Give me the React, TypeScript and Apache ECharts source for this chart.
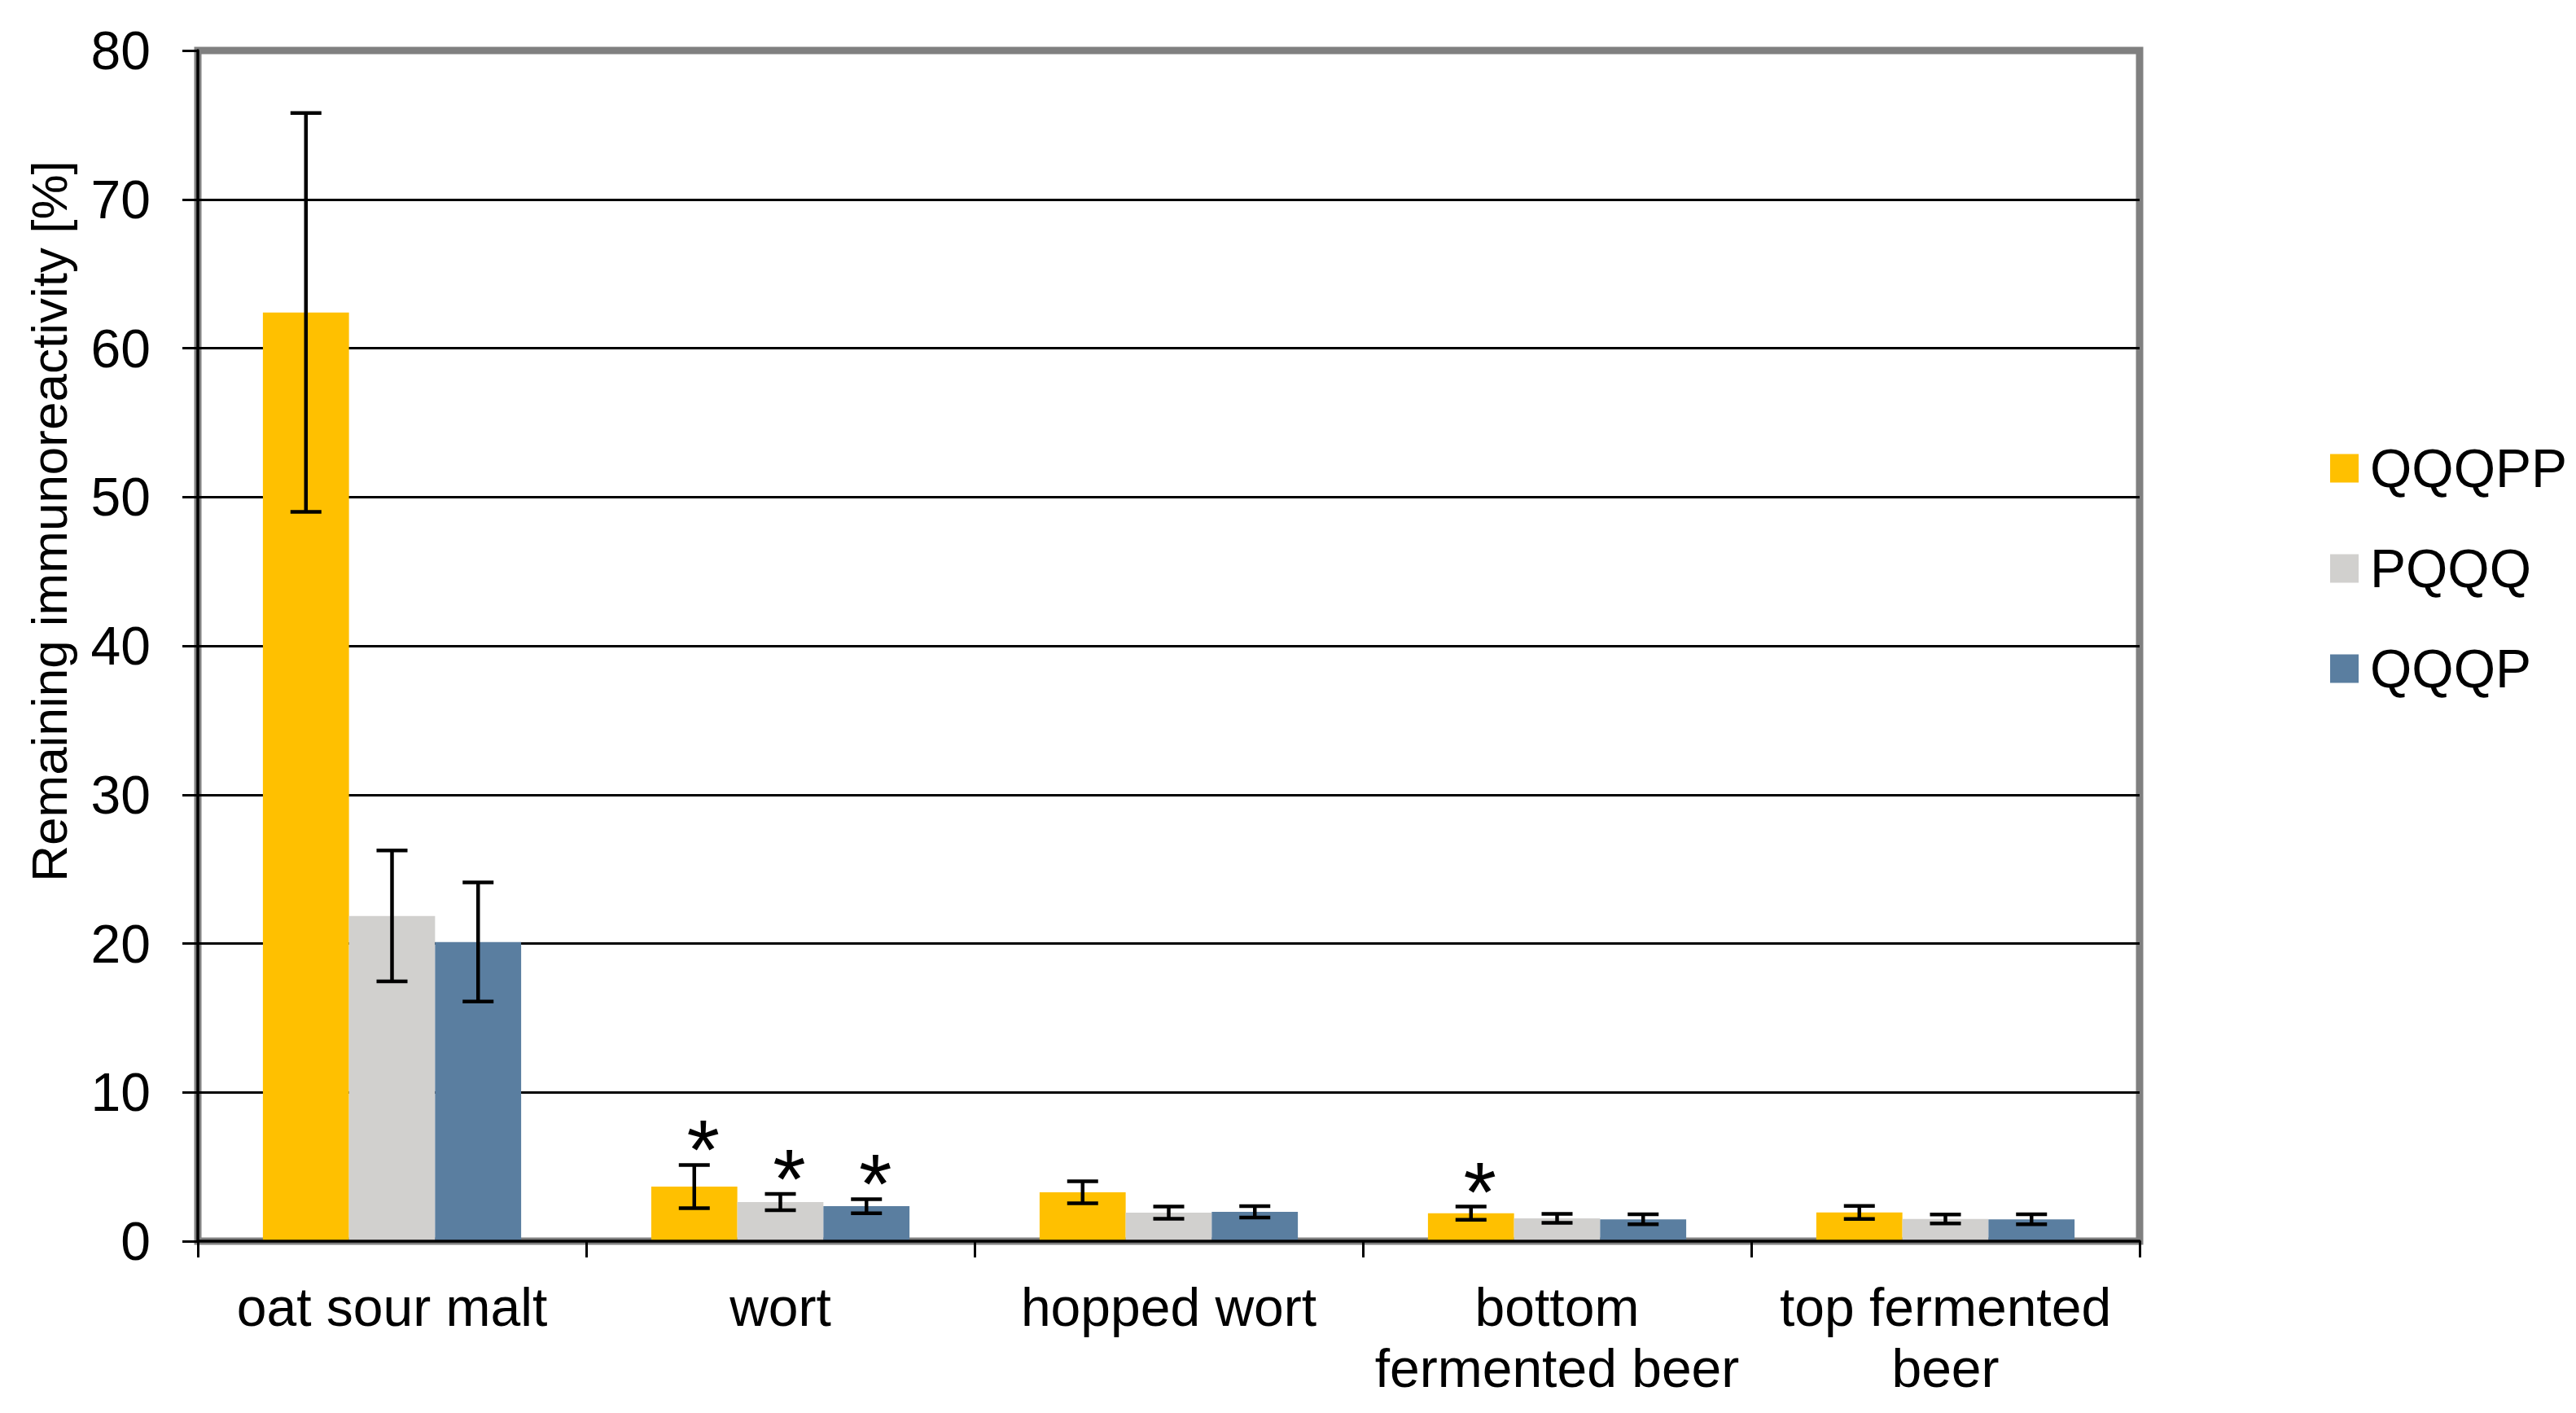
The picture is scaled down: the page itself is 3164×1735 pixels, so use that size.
import React, { useEffect, useRef } from "react";
import * as echarts from "echarts";

const categories = ["oat sour malt", "wort", "hopped wort", "bottom\nfermented beer", "top fermented\nbeer"];
const seriesNames = ["QQQPP", "PQQQ", "QQQP"];
const colors = ["#FFC000", "#D1D0CE", "#5A7EA0"];

const valQQQPP = [62.4, 3.67, 3.28, 1.88, 1.93];
const errQQQPP = [13.4, 1.45, 0.74, 0.44, 0.44];
const starQQQPP = [0, 1, 0, 1, 0];

const valPQQQ = [21.85, 2.63, 1.92, 1.53, 1.49];
const errPQQQ = [4.4, 0.55, 0.41, 0.3, 0.3];
const starPQQQ = [0, 1, 0, 0, 0];

const valQQQP = [20.1, 2.35, 1.97, 1.47, 1.47];
const errQQQP = [4.0, 0.47, 0.38, 0.33, 0.33];
const starQQQP = [0, 1, 0, 0, 0];

const yTicks = { min: 0, max: 80, interval: 10 };
const yTitle = "Remaining immunoreactivity [%]";

const FONT = "'Liberation Sans', Arial, sans-serif";
const CAT_GAP = 0.335;

export default function App() {
  const ref = useRef<HTMLDivElement>(null);
  useEffect(() => {
    if (!ref.current) return;
    const chart = echarts.init(ref.current, null, { renderer: "svg" });
    const vals = [valQQQPP, valPQQQ, valQQQP];
    const errs = [errQQQPP, errPQQQ, errQQQP];
    const stars = [starQQQPP, starPQQQ, starQQQP];

    const errData: number[][] = [];
    vals.forEach((arr, s) => {
      arr.forEach((v, i) => {
        errData.push([i, v - errs[s][i], v + errs[s][i], s, stars[s][i]]);
      });
    });

    const barSeries = seriesNames.map((name, s) => ({
      name,
      type: "bar",
      data: vals[s],
      barGap: "0%",
      barCategoryGap: (CAT_GAP * 100).toFixed(1) + "%",
      itemStyle: { color: colors[s] },
      z: 2,
    }));

    chart.setOption({
      animation: false,
      backgroundColor: "#ffffff",
      textStyle: { fontFamily: FONT },
      grid: {
        left: 243,
        right: 536,
        top: 62,
        bottom: 211,
        show: true,
        borderColor: "#808080",
        borderWidth: 9,
        backgroundColor: "#ffffff",
        containLabel: false,
        z: -1,
      },
      legend: {
        orient: "vertical",
        left: 2857,
        top: 537,
        itemWidth: 35,
        itemHeight: 35,
        itemGap: 57,
        icon: "rect",
        data: seriesNames,
        textStyle: {
          fontSize: 66,
          lineHeight: 66,
          color: "#000",
          fontFamily: FONT,
          padding: [0, 0, 0, 9],
        },
      },
      xAxis: {
        type: "category",
        data: categories,
        boundaryGap: true,
        axisLine: { show: true, lineStyle: { color: "#000", width: 3.5 } },
        axisTick: { show: true, interval: 0, length: 20, lineStyle: { color: "#000", width: 3 } },
        axisLabel: {
          interval: 0,
          fontSize: 66,
          lineHeight: 75,
          color: "#000",
          margin: 43,
          fontFamily: FONT,
        },
        z: 3,
      },
      yAxis: {
        type: "value",
        min: yTicks.min,
        max: yTicks.max,
        interval: yTicks.interval,
        axisLine: { show: true, lineStyle: { color: "#000", width: 3.5 } },
        axisTick: { show: true, length: 19, lineStyle: { color: "#000", width: 3 } },
        axisLabel: { fontSize: 66, color: "#000", margin: 58, fontFamily: FONT },
        splitLine: {
          show: true,
          showMinLine: false,
          showMaxLine: false,
          lineStyle: { color: "#000", width: 3 },
        },
        z: 1,
      },
      graphic: [
        {
          type: "text",
          x: 60,
          y: 640,
          rotation: Math.PI / 2,
          style: {
            text: yTitle,
            fontSize: 62,
            fontFamily: FONT,
            fill: "#000",
            align: "center",
            verticalAlign: "middle",
          },
        },
      ],
      series: [
        ...barSeries,
        {
          type: "custom",
          name: "err",
          z: 5,
          data: errData,
          encode: { x: 0, y: [1, 2] },
          renderItem: (params: any, api: any) => {
            const cat = api.value(0);
            const lo = api.value(1);
            const hi = api.value(2);
            const s = api.value(3);
            const star = api.value(4);
            const band = api.size([1, 0])[0];
            const bw = (band * (1 - CAT_GAP)) / 3;
            const cx = api.coord([cat, 0])[0] + (s - 1) * bw;
            const yLo = api.coord([cat, lo])[1];
            const yHi = api.coord([cat, hi])[1];
            const half = 19;
            const style = { stroke: "#000", lineWidth: 4.5 };
            const children: any[] = [
              { type: "line", shape: { x1: cx, y1: yLo, x2: cx, y2: yHi }, style },
              { type: "line", shape: { x1: cx - half, y1: yHi, x2: cx + half, y2: yHi }, style },
              { type: "line", shape: { x1: cx - half, y1: yLo, x2: cx + half, y2: yLo }, style },
            ];
            if (star) {
              children.push({
                type: "text",
                x: cx + 11,
                y: yHi - 18,
                style: {
                  text: "*",
                  fontSize: 104,
                  fontFamily: FONT,
                  fill: "#000",
                  align: "center",
                  verticalAlign: "middle",
                },
              });
            }
            return { type: "group", children };
          },
          tooltip: { show: false },
        },
      ],
    });
    return () => chart.dispose();
  }, []);
  return (
    <div
      ref={ref}
      style={{ position: "fixed", left: 0, top: 0, width: 3164, height: 1735, background: "#fff" }}
    />
  );
}
